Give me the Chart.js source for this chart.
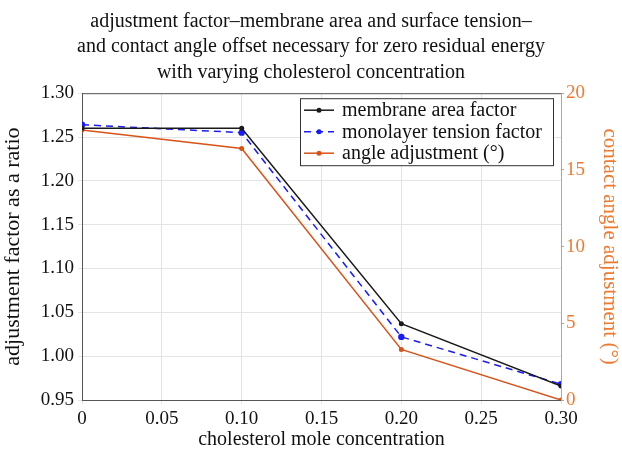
<!DOCTYPE html>
<html lang="en">
<head>
  <meta charset="UTF-8">
  <title>adjustment factor vs cholesterol</title>
  <style>
    body { margin: 0; background: #fff; }
    #wrap { width: 622px; height: 452px; }
  </style>
</head>
<body>
  <div id="wrap"><canvas id="chart"></canvas></div>

  <script src="https://cdn.jsdelivr.net/npm/chart.js"></script>
  <script>
    // data
    const cholesterol = [0, 0.10, 0.20, 0.30];
    const membraneArea = [1.260, 1.260, 1.037, 0.966];
    const monolayerTension = [1.264, 1.255, 1.022, 0.968];
    const angleAdjust = [17.6, 16.4, 3.3, 0.0];

    const xTickLabels = ['0', '0.05', '0.10', '0.15', '0.20', '0.25', '0.30'];
    const leftTickLabels = ['0.95', '1.00', '1.05', '1.10', '1.15', '1.20', '1.25', '1.30'];
    const rightTickLabels = ['0', '5', '10', '15', '20'];

    const serif = "'Liberation Serif', 'DejaVu Serif', serif";
    const orange = '#d95319';
    const orangeAxis = '#ee7a30';

    const pts = (ys) => cholesterol.map((x, i) => ({ x: x, y: ys[i] }));

    // legend drawn inside the plot, top right, like the original
    const boxLegend = {
      id: 'boxLegend',
      afterDraw(chart) {
        const c = chart.ctx, a = chart.chartArea;
        // top frame line
        c.save();
        c.strokeStyle = '#555';
        c.lineWidth = 1;
        c.beginPath();
        c.moveTo(a.left, a.top + 0.5);
        c.lineTo(a.right, a.top + 0.5);
        c.stroke();

        const w = 253, h = 67;
        const x0 = a.right - 8 - w, y0 = a.top + 5;
        c.fillStyle = '#fff';
        c.fillRect(x0, y0, w, h);
        c.strokeStyle = '#333';
        c.strokeRect(x0 + 0.5, y0 + 0.5, w, h);
        c.font = '20px ' + serif;
        c.textBaseline = 'middle';
        chart.data.datasets.forEach((ds, i) => {
          const y = y0 + 12 + i * 21.5;
          c.strokeStyle = ds.borderColor;
          c.lineWidth = 1.5;
          c.setLineDash(ds.borderDash || []);
          c.beginPath();
          c.moveTo(x0 + 4, y);
          c.lineTo(x0 + 34, y);
          c.stroke();
          c.setLineDash([]);
          c.fillStyle = ds.pointBackgroundColor;
          c.beginPath();
          c.arc(x0 + 19, y, 2.5, 0, Math.PI * 2);
          c.fill();
          c.fillStyle = '#111';
          c.fillText(ds.label, x0 + 42, y + 1);
        });
        c.restore();
      }
    };

    new Chart(document.getElementById('chart'), {
      type: 'line',
      data: {
        datasets: [
          {
            label: 'membrane area factor',
            data: pts(membraneArea),
            yAxisID: 'y',
            borderColor: '#1a1a1a',
            backgroundColor: '#1a1a1a',
            pointBackgroundColor: '#1a1a1a',
            borderWidth: 1.5,
            pointRadius: 2.5,
            pointBorderWidth: 0
          },
          {
            label: 'monolayer tension factor',
            data: pts(monolayerTension),
            yAxisID: 'y',
            borderColor: '#1a1aff',
            backgroundColor: '#1a1aff',
            pointBackgroundColor: '#1a1aff',
            borderDash: [7, 5],
            borderWidth: 1.5,
            pointRadius: 3.2,
            pointBorderWidth: 0
          },
          {
            label: 'angle adjustment (°)',
            data: pts(angleAdjust),
            yAxisID: 'y1',
            borderColor: orange,
            backgroundColor: orange,
            pointBackgroundColor: orange,
            borderWidth: 1.5,
            pointRadius: 2.5,
            pointBorderWidth: 0
          }
        ]
      },
      options: {
        responsive: true,
        maintainAspectRatio: false,
        animation: false,
        layout: { padding: 0 },
        plugins: {
          legend: { display: false },
          tooltip: { enabled: false },
          title: {
            display: true,
            text: [
              'adjustment factor–membrane area and surface tension–',
              'and contact angle offset necessary for zero residual energy',
              'with varying cholesterol concentration'
            ],
            color: '#111',
            font: { family: serif, size: 20, weight: 'normal', lineHeight: 1.27 },
            padding: { top: 9, bottom: 8 }
          }
        },
        scales: {
          x: {
            type: 'linear',
            min: 0, max: 0.30,
            afterBuildTicks(s) {
              s.ticks = xTickLabels.map(t => ({ value: parseFloat(t) }));
            },
            ticks: {
              callback: (v, i) => xTickLabels[i],
              color: '#111',
              font: { family: serif, size: 19 },
              maxRotation: 0,
              padding: 4
            },
            grid: { color: '#e4e4e4', tickLength: 4 },
            border: { color: '#555' },
            title: {
              display: true,
              text: 'cholesterol mole concentration',
              color: '#111',
              font: { family: serif, size: 20 },
              padding: { top: 0, bottom: 0 }
            },
            afterFit(s) { s.height = 52; }
          },
          y: {
            position: 'left',
            min: 0.95, max: 1.30,
            afterBuildTicks(s) {
              s.ticks = leftTickLabels.map(t => ({ value: parseFloat(t) }));
            },
            ticks: {
              callback: (v, i) => leftTickLabels[i],
              color: '#111',
              font: { family: serif, size: 19 },
              padding: 4
            },
            grid: { color: '#e4e4e4', tickLength: 4 },
            border: { color: '#555' },
            title: {
              display: true,
              text: 'adjustment factor as a ratio',
              color: '#111',
              font: { family: serif, size: 22 },
              padding: { top: 0, bottom: 0 }
            },
            afterFit(s) { s.width = 82; }
          },
          y1: {
            position: 'right',
            min: 0, max: 20,
            afterBuildTicks(s) {
              s.ticks = rightTickLabels.map(t => ({ value: parseFloat(t) }));
            },
            ticks: {
              callback: (v, i) => rightTickLabels[i],
              color: orangeAxis,
              font: { family: serif, size: 19 },
              padding: 2
            },
            grid: { drawOnChartArea: false, color: '#c8a080', tickLength: 3 },
            border: { color: '#c8a080' },
            title: {
              display: true,
              text: 'contact angle adjustment (°)',
              color: orangeAxis,
              font: { family: serif, size: 21 },
              padding: { top: 0, bottom: 3 }
            },
            afterFit(s) { s.width = 61; }
          }
        }
      },
      plugins: [boxLegend]
    });
  </script>
</body>
</html>
